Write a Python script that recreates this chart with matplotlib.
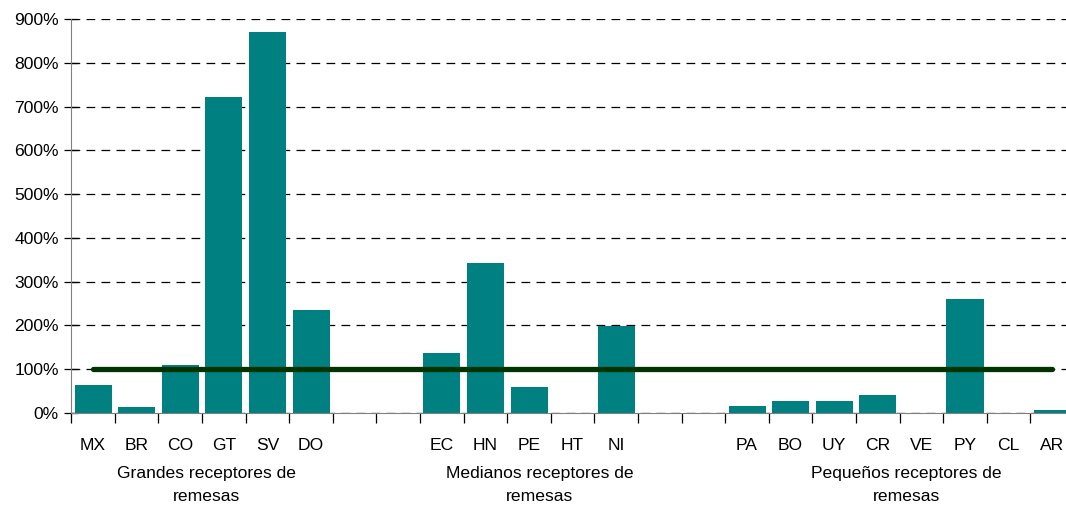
import matplotlib
matplotlib.use('Agg')

import matplotlib.pyplot as plt
import numpy as np

plt.rcParams['font.family'] = ['Liberation Sans', 'DejaVu Sans']

# categories in plot order, blanks are empty slots between groups
countries = ['MX', 'BR', 'CO', 'GT', 'SV', 'DO', '', '',
             'EC', 'HN', 'PE', 'HT', 'NI', '', '',
             'PA', 'BO', 'UY', 'CR', 'VE', 'PY', 'CL', 'AR']
values = [64, 14, 110, 722, 870, 235, np.nan, np.nan,
          137, 343, 59, 0, 199, np.nan, np.nan,
          16, 27, 27, 41, 1, 260, 0, 6]
reference = 100  # percent
groups = ['Grandes receptores de\nremesas',
          'Medianos receptores de\nremesas',
          'Pequeños receptores de\nremesas']
group_pos = [2.6, 10.25, 18.65]

W, H = 1066, 505
fig = plt.figure(figsize=(W/100, H/100), dpi=100)
ax = fig.add_axes([71.3/W, 92/H, (1074-71.3)/W, (413-19)/H])

x = np.arange(len(countries))
ax.bar(x, np.nan_to_num(values), width=0.85, color='#008080', zorder=2)
ax.plot([x[0], x[-1]], [reference, reference], color='#003300', lw=3.8,
        solid_capstyle='round', zorder=3)

ax.set_xlim(-0.5, len(countries) - 0.5)
ax.set_ylim(0, 900)
ax.set_yticks(np.arange(0, 901, 100))
ax.set_yticklabels(['%d%%' % v for v in range(0, 901, 100)], fontsize=12.6)
ax.yaxis.grid(True, color='black', ls=(0, (7, 5)), lw=0.9, zorder=0)

ax.set_xticks(np.arange(-0.5, len(countries)), minor=False)
ax.set_xticklabels([])
ax.set_xticks(x, minor=True)
ax.set_xticklabels(countries, minor=True, fontsize=12.6)
ax.tick_params(axis='x', which='major', direction='out', length=7, width=0.9)
ax.tick_params(axis='x', which='minor', length=0, pad=18)
ax.tick_params(axis='y', direction='inout', length=10, width=0.9, pad=4)

for s in ['top', 'right']:
    ax.spines[s].set_visible(False)
ax.spines['left'].set_color('#808080')
ax.spines['bottom'].set_color('#808080')

for g, p in zip(groups, group_pos):
    ax.text(p, -122, g, ha='center', va='top', fontsize=12.6,
            linespacing=1.65, transform=ax.transData)

fig.savefig('out.png', dpi=100)
